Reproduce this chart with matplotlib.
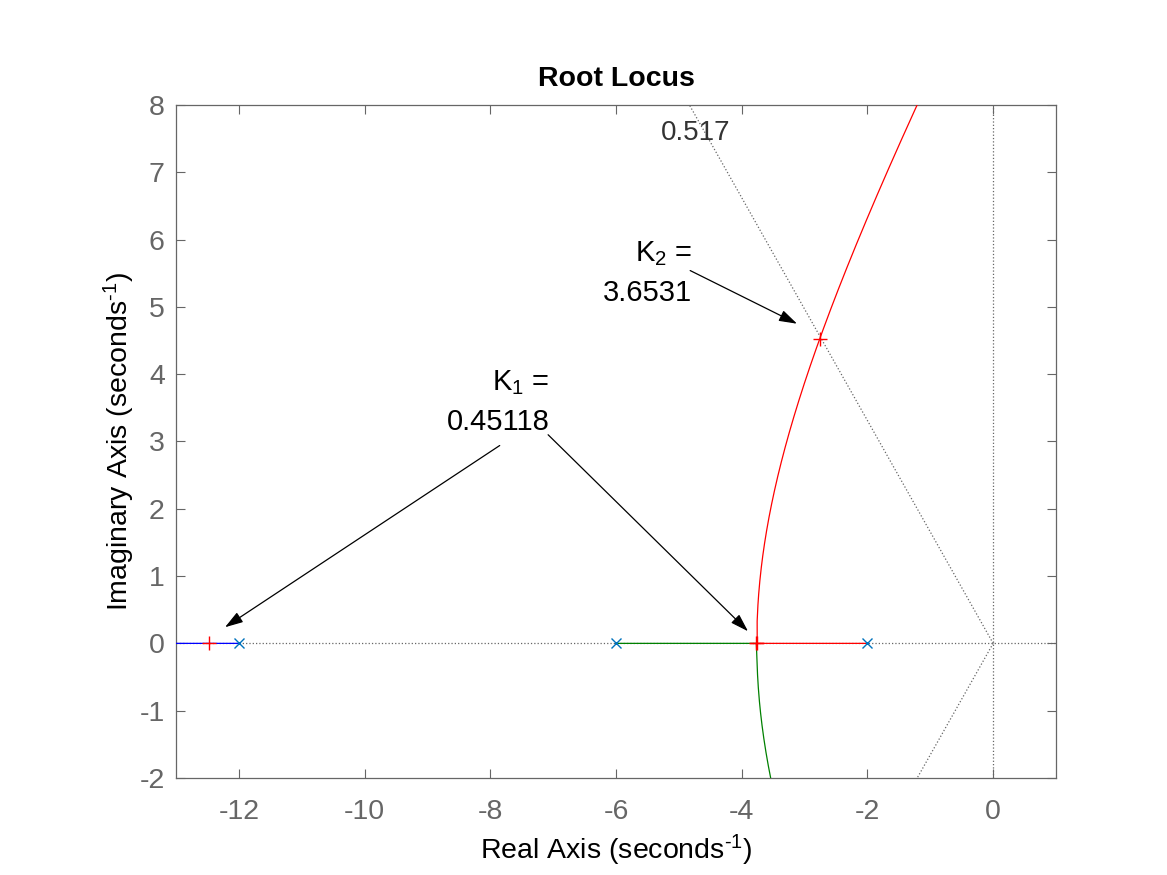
import numpy as np
import matplotlib as mpl
mpl.rcParams['font.family'] = ['Liberation Sans', 'DejaVu Sans']
mpl.rcParams['mathtext.fontset'] = 'custom'
mpl.rcParams['mathtext.rm'] = 'Liberation Sans'
mpl.rcParams['mathtext.it'] = 'Liberation Sans'
mpl.rcParams['axes.unicode_minus'] = False
import matplotlib.pyplot as plt

# open-loop system: G(s) = 72 / ((s+2)(s+6)(s+12))
poles = [-2, -6, -12]
num_gain = 72
K1 = 0.45118
K2 = 3.6531
zeta = 0.517
K_max = 40

den = np.poly(poles)
x_ticks = [-12, -10, -8, -6, -4, -2, 0]
y_ticks = [-2, -1, 0, 1, 2, 3, 4, 5, 6, 7, 8]


def cl_roots(k):
    return np.roots(den + np.array([0, 0, 0, num_gain * k]))


# sweep gain and sort roots into the three branches
gains = np.concatenate([np.linspace(0, K1, 300), np.linspace(K1, K_max, 3000)[1:]])
blue, green, red = [], [], []
for k in gains:
    r = cl_roots(k)
    if np.all(np.abs(r.imag) < 1e-6):
        r = np.sort(r.real)
        blue.append(r[0]); green.append(r[1]); red.append(r[2])
    else:
        i_real = np.argmin(np.abs(r.imag))
        blue.append(r[i_real].real)
        cpx = np.delete(r, i_real)
        red.append(cpx[np.argmax(cpx.imag)])
        green.append(cpx[np.argmin(cpx.imag)])
blue = np.array(blue, dtype=complex)
green = np.array(green, dtype=complex)
red = np.array(red, dtype=complex)

fig = plt.figure(figsize=(11.67, 8.75), dpi=100)
ax = fig.add_axes([0.1508, 0.1109, 0.7541, 0.7691])
grey = '#666666'

# grid lines (sgrid style)
ax.axhline(0, color=grey, ls=':', lw=0.9, zorder=1)
ax.axvline(0, color=grey, ls=':', lw=0.9, zorder=1)
ang = np.arccos(zeta)
far = 20
ax.plot([0, -far * np.cos(ang)], [0, far * np.sin(ang)], color=grey, ls=':', lw=0.9, zorder=1)
ax.plot([0, -far * np.cos(ang)], [0, -far * np.sin(ang)], color=grey, ls=':', lw=0.9, zorder=1)
ax.text(-4.74, 7.59, '%g' % zeta, color='#333333', fontsize=20, ha='center', va='center')

ax.plot(blue.real, blue.imag, color='#0000FF', lw=0.9, zorder=3)
ax.plot(green.real, green.imag, color='#008000', lw=0.9, zorder=3)
ax.plot(red.real, red.imag, color='#FF0000', lw=0.9, zorder=3)

ax.plot(np.real(poles), np.imag(poles), 'x', color='#0072BD', ms=7, mew=1.0, zorder=4)
for k in (K1, K2):
    r = cl_roots(k)
    ax.plot(r.real, r.imag, '+', color='#FF0000', ms=10, mew=1.0, zorder=5)

arrow = dict(arrowstyle='-|>,head_length=1.1,head_width=0.35', color='black', lw=0.9,
             shrinkA=0, shrinkB=0)
ax.annotate('', xy=(-12.22, 0.24), xytext=(-7.85, 2.94), arrowprops=arrow)
ax.annotate('', xy=(-3.90, 0.18), xytext=(-7.08, 3.10), arrowprops=arrow)
ax.annotate('', xy=(-3.12, 4.75), xytext=(-4.82, 5.54), arrowprops=arrow)
ax.text(-7.06, 3.17, 'K$_1$ =\n%.5g' % K1, fontsize=21, ha='right', va='baseline',
        multialignment='right', linespacing=1.5)
ax.text(-4.79, 5.09, 'K$_2$ =\n%.5g' % K2, fontsize=21, ha='right', va='baseline',
        multialignment='right', linespacing=1.5)

ax.set_xlim(-13, 1)
ax.set_ylim(-2, 8)
ax.set_xticks(x_ticks)
ax.set_yticks(y_ticks)
ax.tick_params(direction='in', length=6.5, width=0.8, color=grey, labelcolor=grey,
               labelsize=20.5, top=True, right=True, pad=8)
ax.tick_params(axis='x', pad=15)
for s in ax.spines.values():
    s.set_color(grey)
    s.set_linewidth(0.9)

ax.set_title('Root Locus', fontsize=20.5, fontweight='bold', pad=14)
ax.set_xlabel('Real Axis (seconds$^{\u2010 1}$)', fontsize=20.5, labelpad=6)
ax.set_ylabel('Imaginary Axis (seconds$^{\u2010 1}$)', fontsize=20.5, labelpad=2)

fig.savefig('out.png', dpi=100)
